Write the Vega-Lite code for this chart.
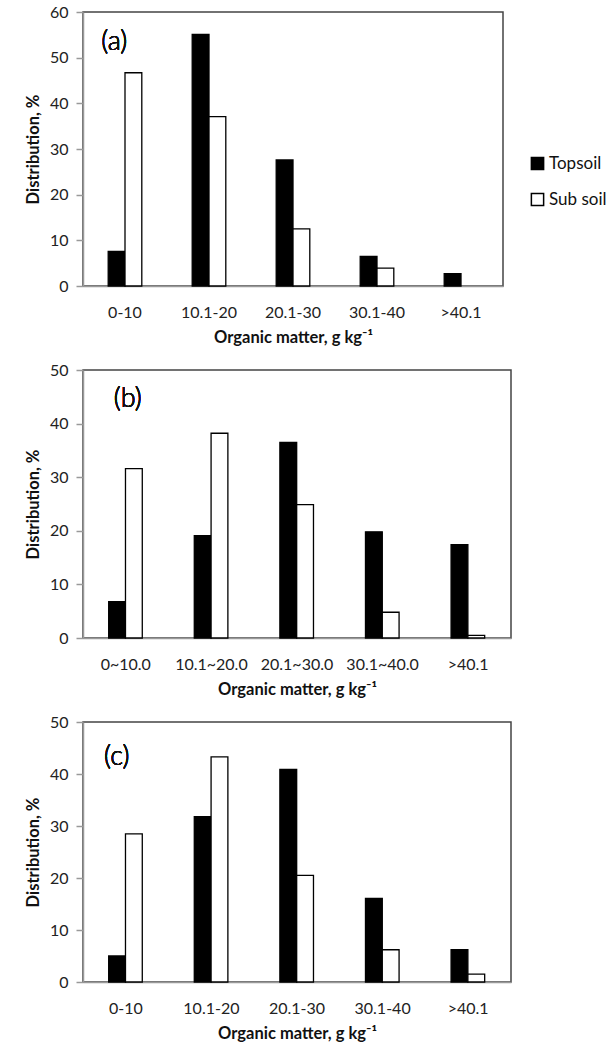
{
  "$schema": "https://vega.github.io/schema/vega-lite/v6.json",
  "background": "white",
  "padding": {"left": 24, "top": 3, "right": 5, "bottom": 2},
  "spacing": 14,
  "config": {
    "font": "Lato",
    "view": {"stroke": "#444", "strokeWidth": 1.5},
    "axis": {"labelFont": "Lato", "titleFont": "Lato", "labelColor": "#222", "titleColor": "#111", "domainColor": "#999", "domainWidth": 1.5, "tickColor": "#999", "tickWidth": 1.5, "grid": false, "labelFontSize": 16, "titleFontSize": 16.5, "titleFontWeight": "bold"},
    "axisX": {"ticks": false, "labelPadding": 18, "titlePadding": 9, "labelAngle": 0},
    "axisY": {"tickSize": 7, "labelPadding": 8, "titlePadding": 8},
    "legend": {"labelFont": "Lato", "labelFontSize": 17, "labelColor": "#111"}
  },
  "vconcat": [
    {
      "width": 420,
      "height": 274,
      "data": {"values": [
        {"om": "0-10", "soil": "Topsoil", "pct": 7.6},
        {"om": "0-10", "soil": "Sub soil", "pct": 46.7},
        {"om": "10.1-20", "soil": "Topsoil", "pct": 55.1},
        {"om": "10.1-20", "soil": "Sub soil", "pct": 37.1},
        {"om": "20.1-30", "soil": "Topsoil", "pct": 27.6},
        {"om": "20.1-30", "soil": "Sub soil", "pct": 12.5},
        {"om": "30.1-40", "soil": "Topsoil", "pct": 6.5},
        {"om": "30.1-40", "soil": "Sub soil", "pct": 3.9},
        {"om": ">40.1", "soil": "Topsoil", "pct": 2.7}
      ]},
      "layer": [
        {
          "mark": {"type": "bar", "stroke": "black", "strokeWidth": 1.3},
          "encoding": {
            "x": {"field": "om", "type": "nominal", "sort": null, "scale": {"paddingInner": 0.6, "paddingOuter": 0.3}, "title": "Organic matter, g kg⁻¹"},
            "xOffset": {"field": "soil", "type": "nominal", "sort": ["Topsoil", "Sub soil"], "scale": {"paddingInner": 0, "paddingOuter": 0}},
            "y": {"field": "pct", "type": "quantitative", "scale": {"domain": [0, 60], "nice": false}, "axis": {"values": [0, 10, 20, 30, 40, 50, 60]}, "title": "Distribution, %"},
            "fill": {"field": "soil", "type": "nominal", "scale": {"domain": ["Topsoil", "Sub soil"], "range": ["black", "white"]},
              "legend": {"title": null, "orient": "none", "legendX": 446, "legendY": 143, "symbolType": "square", "symbolSize": 150, "symbolStrokeColor": "black", "symbolStrokeWidth": 1.5, "rowPadding": 17, "labelOffset": 3}}
          }
        },
        {
          "mark": {"type": "text", "fontSize": 27, "font": "Lato", "fontWeight": 300, "color": "#111"},
          "encoding": {"x": {"datum": "0-10"}, "y": {"datum": 53.5}, "text": {"value": "(a)"}, "xOffset": {"value": 6}}
        }
      ]
    },
    {
      "width": 428,
      "height": 268,
      "data": {"values": [
        {"om": "0~10.0", "soil": "Topsoil", "pct": 6.8},
        {"om": "0~10.0", "soil": "Sub soil", "pct": 31.6},
        {"om": "10.1~20.0", "soil": "Topsoil", "pct": 19.1},
        {"om": "10.1~20.0", "soil": "Sub soil", "pct": 38.2},
        {"om": "20.1~30.0", "soil": "Topsoil", "pct": 36.5},
        {"om": "20.1~30.0", "soil": "Sub soil", "pct": 24.9},
        {"om": "30.1~40.0", "soil": "Topsoil", "pct": 19.8},
        {"om": "30.1~40.0", "soil": "Sub soil", "pct": 4.8},
        {"om": ">40.1", "soil": "Topsoil", "pct": 17.4},
        {"om": ">40.1", "soil": "Sub soil", "pct": 0.5}
      ]},
      "layer": [
        {
          "mark": {"type": "bar", "stroke": "black", "strokeWidth": 1.3},
          "encoding": {
            "x": {"field": "om", "type": "nominal", "sort": null, "scale": {"paddingInner": 0.6, "paddingOuter": 0.3}, "title": "Organic matter, g kg⁻¹"},
            "xOffset": {"field": "soil", "type": "nominal", "sort": ["Topsoil", "Sub soil"], "scale": {"paddingInner": 0, "paddingOuter": 0}},
            "y": {"field": "pct", "type": "quantitative", "scale": {"domain": [0, 50], "nice": false}, "axis": {"values": [0, 10, 20, 30, 40, 50]}, "title": "Distribution, %"},
            "fill": {"field": "soil", "type": "nominal", "scale": {"domain": ["Topsoil", "Sub soil"], "range": ["black", "white"]}, "legend": null}
          }
        },
        {
          "mark": {"type": "text", "fontSize": 27, "font": "Lato", "fontWeight": 300, "color": "#111"},
          "encoding": {"x": {"datum": "0~10.0"}, "y": {"datum": 44.5}, "text": {"value": "(b)"}, "xOffset": {"value": 19}}
        }
      ]
    },
    {
      "width": 428,
      "height": 260,
      "data": {"values": [
        {"om": "0-10", "soil": "Topsoil", "pct": 5.0},
        {"om": "0-10", "soil": "Sub soil", "pct": 28.5},
        {"om": "10.1-20", "soil": "Topsoil", "pct": 31.8},
        {"om": "10.1-20", "soil": "Sub soil", "pct": 43.3},
        {"om": "20.1-30", "soil": "Topsoil", "pct": 40.9},
        {"om": "20.1-30", "soil": "Sub soil", "pct": 20.5},
        {"om": "30.1-40", "soil": "Topsoil", "pct": 16.1},
        {"om": "30.1-40", "soil": "Sub soil", "pct": 6.2},
        {"om": ">40.1", "soil": "Topsoil", "pct": 6.2},
        {"om": ">40.1", "soil": "Sub soil", "pct": 1.5}
      ]},
      "layer": [
        {
          "mark": {"type": "bar", "stroke": "black", "strokeWidth": 1.3},
          "encoding": {
            "x": {"field": "om", "type": "nominal", "sort": null, "scale": {"paddingInner": 0.6, "paddingOuter": 0.3}, "title": "Organic matter, g kg⁻¹"},
            "xOffset": {"field": "soil", "type": "nominal", "sort": ["Topsoil", "Sub soil"], "scale": {"paddingInner": 0, "paddingOuter": 0}},
            "y": {"field": "pct", "type": "quantitative", "scale": {"domain": [0, 50], "nice": false}, "axis": {"values": [0, 10, 20, 30, 40, 50]}, "title": "Distribution, %"},
            "fill": {"field": "soil", "type": "nominal", "scale": {"domain": ["Topsoil", "Sub soil"], "range": ["black", "white"]}, "legend": null}
          }
        },
        {
          "mark": {"type": "text", "fontSize": 27, "font": "Lato", "fontWeight": 300, "color": "#111"},
          "encoding": {"x": {"datum": "0-10"}, "y": {"datum": 43.3}, "text": {"value": "(c)"}, "xOffset": {"value": 8}}
        }
      ]
    }
  ]
}
